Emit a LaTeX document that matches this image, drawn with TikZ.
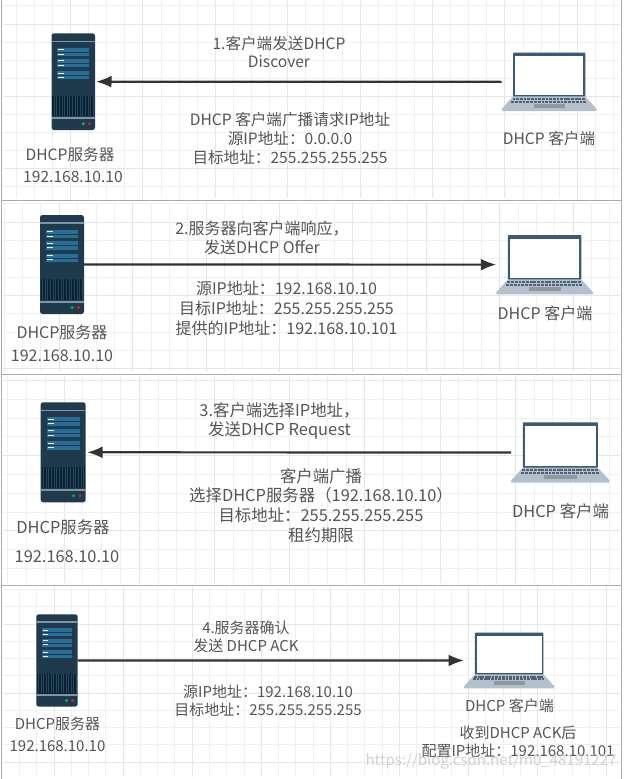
\documentclass[tikz,border=0pt]{standalone}
\usepackage{fontspec}
\setmainfont{Noto Sans CJK SC}
\usetikzlibrary{arrows.meta}
\definecolor{txt}{HTML}{555555}
\definecolor{gridminor}{HTML}{F0F0F0}
\definecolor{gridmajor}{HTML}{E6E6E6}
\definecolor{frameline}{HTML}{ABABAB}
\definecolor{srvbody}{HTML}{1F3A4D}
\definecolor{srvdark}{HTML}{0C2030}
\definecolor{srvstrip}{HTML}{8095A3}
\definecolor{srvblue}{HTML}{286E96}
\definecolor{lapframe}{HTML}{3C5A78}
\definecolor{lapbase}{HTML}{B4C1CC}
\definecolor{lapkeys}{HTML}{4F6170}
\definecolor{lappad}{HTML}{8E989F}
\tikzset{
  every picture/.append style={x=1pt,y=-1pt},
  lbl/.style={text=txt,align=center,inner sep=0pt,font=\fontsize{#1}{#1}\selectfont},
  iconbox/.style={inner sep=0pt,outer sep=0pt,anchor=north west},
  link/.style={draw=black!80,line width=2.2pt,-{Latex[length=15.5pt,width=12pt]}},
  framebox/.style={draw=frameline,line width=1pt},
}
\newcommand{\gridpanel}[5]{%
  \foreach \k in {-4,...,40}{%
    \pgfmathsetmacro{\gx}{#1+\k*#2/4}%
    \pgfmathsetmacro{\gy}{#3+\k*#2/4}%
    \pgfmathtruncatemacro{\mj}{mod(\k+400,4)==0}%
    \ifnum\mj=1\def\gc{gridmajor}\else\def\gc{gridminor}\fi
    \pgfmathparse{(\gx>2.5)&&(\gx<620)}%
    \ifnum\pgfmathresult=1\draw[\gc,line width=1pt](\gx,#4)--(\gx,#5);\fi
    \pgfmathparse{(\gy>#4)&&(\gy<#5)}%
    \ifnum\pgfmathresult=1\draw[\gc,line width=1pt](2.5,\gy)--(620,\gy);\fi
  }}
\newcommand{\srvicon}[5]{%
  \node[iconbox,minimum width=#4pt,minimum height=#5pt] (#1) at (#2,#3) {};
  \begin{scope}[shift={(#1.north west)},x=#4pt,y=-#5pt]
    \fill[srvbody,rounded corners=2.5pt] (0,0) rectangle (1,1);
    \fill[srvstrip] (0,.075) rectangle (1,.09);
    \fill[srvstrip] (0,.865) rectangle (1,.885);
    \foreach \a/\b in {.15/.235,.265/.35,.39/.475}{
      \fill[srvblue] (.13,\a) rectangle (.87,\b);
      \fill[srvbody] (.13,{(\a+\b)/2-.002}) rectangle (.87,{(\a+\b)/2+.002});
      \fill[white!90!srvblue] (.16,{\a+.016}) rectangle (.29,{\a+.026});
      \fill[white!90!srvblue] (.16,{\b-.026}) rectangle (.29,{\b-.016});
    }
    \fill[srvdark] (.02,.645) rectangle (.98,.86);
    \foreach \i in {0,...,15}{
      \fill[srvbody!70!srvblue] ({.05+\i*.06},.65) rectangle ({.06+\i*.06},.855);
    }
    \fill[green!50!teal] (.73,.935) circle[radius=1.6pt];
    \fill[red!60!purple!90!white] (.875,.935) circle[radius=1.6pt];
  \end{scope}}
\newcommand{\lapicon}[5]{%
  \node[iconbox,minimum width=#4pt,minimum height=#5pt] (#1) at (#2,#3) {};
  \begin{scope}[shift={(#1.north west)},x=#4pt,y=-#5pt]
    \fill[lapbase] (.125,.74) -- (.875,.74) -- (1,.965) to[out=-90,in=0] (.99,1) -- (.01,1) to[out=180,in=-90] (0,.965) -- cycle;
    \fill[lapframe,rounded corners=.8pt] (.12,0) rectangle (.88,.75);
    \fill[white] (.145,.065) rectangle (.86,.725);
    \foreach \r in {0,1}{
      \foreach \i in {0,...,19}{
        \fill[lapkeys] ({.115-\r*.015+\i*.0385+\r*.0015*\i},{.775+\r*.045}) rectangle ({.145-\r*.015+\i*.0385+\r*.0015*\i},{.81+\r*.045});
      }
    }
    \fill[lappad] (.335,.875) rectangle (.67,.945);
  \end{scope}}
\begin{document}
\begin{tikzpicture}
\useasboundingbox (0,0) rectangle (624,779);
\fill[white] (0,0) rectangle (624,779);
\gridpanel{70.5}{72.4}{24}{0}{198}
\gridpanel{59.3}{73.4}{222}{202}{372}
\gridpanel{64}{75.2}{380.5}{376}{583}
\gridpanel{54}{69.1}{624}{587}{777}
\draw[framebox] (1.5,0)--(1.5,779);
\draw[framebox] (621,0)--(621,779);
\draw[framebox] (1.5,200)--(621,200);
\draw[framebox] (1.5,374)--(621,374);
\draw[framebox] (1.5,585)--(621,585);
% panel 1
\srvicon{s1}{51.5}{33.3}{43.5}{96.7}
\lapicon{c1}{501.7}{52.7}{95}{58.3}
\draw[link,shorten >=1pt] (c1.west) -- (s1.east);
\node[lbl=15.6] (t1) at (279,52) {1.客户端发送DHCP\\[3pt]Discover};
\node[lbl=15.6] (d1) at (290,138.7) {DHCP 客户端广播请求IP地址\\[3.3pt]源IP地址：0.0.0.0\\[3.3pt]目标地址：255.255.255.255};
\node[lbl=15.6] (n1) at (70,155) {DHCP服务器};
\node[lbl=15.6] (i1) at (73,177) {192.168.10.10};
\node[lbl=15.6] (m1) at (549,139) {DHCP 客户端};
% panel 2
\srvicon{s2}{40}{215}{44}{99}
\lapicon{c2}{496.3}{235}{96.7}{59.3}
\draw[link] (s2.east) -- (c2.west);
\node[lbl=16] (t2) at (262,238) {2.服务器向客户端响应，\\[3.5pt]发送DHCP Offer};
\node[lbl=16] (d2) at (286.5,308) {源IP地址：192.168.10.10\\[4pt]目标IP地址：255.255.255.255\\[4pt]提供的IP地址：192.168.10.101};
\node[lbl=16] (n2) at (62,332) {DHCP服务器};
\node[lbl=16] (i2) at (62,356) {192.168.10.10};
\node[lbl=16] (m2) at (545,313) {DHCP 客户端};
% panel 3
\srvicon{s3}{40.7}{402.3}{45}{100}
\lapicon{c3}{511}{422.3}{98.7}{60.4}
\draw[link,shorten >=1.5pt] (c3.west) -- (s3.east);
\node[lbl=16.4] (t3) at (279.5,421) {3.客户端选择IP地址，\\[3pt]发送DHCP Request};
\node[lbl=16.4] (d3) at (321,505.5) {客户端广播\\[3.3pt]选择DHCP服务器（192.168.10.10）\\[3.3pt]目标地址：255.255.255.255\\[3.3pt]租约期限};
\node[lbl=16.4] (n3) at (63,527.7) {DHCP服务器};
\node[lbl=16.4] (i3) at (67,556.7) {192.168.10.10};
\node[lbl=16.4] (m3) at (560.5,511.7) {DHCP 客户端};
% panel 4
\srvicon{s4}{36.3}{614.3}{41.4}{92.3}
\lapicon{c4}{464}{632.7}{90.3}{55.6}
\draw[link] (s4.east) -- (c4.west);
\node[lbl=15] (t4) at (246,636.5) {4.服务器确认\\[3pt]发送 DHCP ACK};
\node[lbl=15] (d4) at (268,701) {源IP地址：192.168.10.10\\[3.3pt]目标地址：255.255.255.255};
\node[lbl=15] (n4) at (57.5,724) {DHCP服务器};
\node[lbl=15] (i4) at (57.5,745.7) {192.168.10.10};
\node[lbl=15] (m4) at (509.5,706) {DHCP 客户端};
\node[lbl=15] (r4) at (518,741.5) {收到DHCP ACK后\\[3.3pt]配置IP地址：192.168.10.101};
\node[lbl=15,text=black!22,opacity=.8] (wm) at (491,761) {https://blog.csdn.net/m0\_48191227};
\end{tikzpicture}
\end{document}
